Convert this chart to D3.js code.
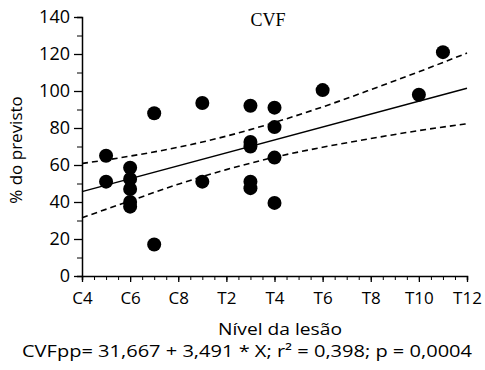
<!DOCTYPE html>
<html>
<head>
<meta charset="utf-8">
<script src="https://cdn.jsdelivr.net/npm/d3@7"></script>
<style>
  body { margin: 0; background: #fff; }
  text { font-family: "Open Sans", "Liberation Sans", Arial, sans-serif; fill: #000; }
</style>
</head>
<body>
<svg id="chart"></svg>
<script>
// spinal level index: C4 = 4 ... T12 = 20
const levelTicks = [4, 6, 8, 10, 12, 14, 16, 18, 20];
const levelLabels = ["C4", "C6", "C8", "T2", "T4", "T6", "T8", "T10", "T12"];

// observed CVF (% predicted) per patient
const pointLevel = [5, 5, 6, 6, 6, 6, 6, 7, 7, 9, 9, 11, 11, 11, 11, 11, 12, 12, 12, 12, 14, 18, 19];
const pointValue = [65, 51, 58.5, 52.5, 47, 40, 37.5, 88, 17, 93.5, 51, 92, 72.5, 70, 51, 47.5, 91, 80.5, 64, 39.5, 100.5, 98, 121];

// fitted line and confidence band
const fitLevel = [4, 20];
const fitValue = [45.6, 101.5];
const bandLevel = [4, 6, 8, 10, 12, 14, 16, 18, 20];
const bandUpper = [60.8, 64.8, 69.6, 75.6, 83.0, 91.4, 100.7, 110.4, 120.5];
const bandLower = [31.5, 40.6, 49.6, 57.5, 64.2, 69.6, 74.3, 78.6, 82.3];

const yTicks = [0, 20, 40, 60, 80, 100, 120, 140];

const width = 485, height = 370;
const marginLeft = 82, marginRight = 18, marginTop = 17, marginBottom = 94;

const svg = d3.select("#chart").attr("width", width).attr("height", height);

const x = d3.scaleLinear().domain([4, 20]).range([marginLeft, width - marginRight]);
const y = d3.scaleLinear().domain([0, 140]).range([height - marginBottom, marginTop]);

// x-axis: minor ticks every half level, labels every two
svg.append("g")
  .attr("transform", `translate(0,${y(0)})`)
  .call(d3.axisBottom(x).tickValues(d3.range(4, 20.01, 0.5)).tickSize(4).tickFormat(""))
  .call(g => g.select(".domain").attr("stroke-width", 1.5));
svg.append("g")
  .attr("transform", `translate(0,${y(0)})`)
  .call(d3.axisBottom(x).tickValues(levelTicks).tickSize(6).tickPadding(10)
    .tickFormat((d, i) => levelLabels[i]))
  .call(g => g.select(".domain").remove())
  .call(g => g.selectAll("line").attr("stroke-width", 1.3))
  .call(g => g.selectAll("text").attr("font-size", 17));

// y-axis: minor every 10, labels every 20
svg.append("g")
  .attr("transform", `translate(${x(4)},0)`)
  .call(d3.axisLeft(y).tickValues(d3.range(10, 140, 20)).tickSize(5).tickFormat(""))
  .call(g => g.select(".domain").attr("stroke-width", 1.5));
svg.append("g")
  .attr("transform", `translate(${x(4)},0)`)
  .call(d3.axisLeft(y).tickValues(yTicks).tickSize(8).tickPadding(4))
  .call(g => g.select(".domain").remove())
  .call(g => g.selectAll("line").attr("stroke-width", 1.3))
  .call(g => g.selectAll("text").attr("font-size", 18));

// confidence band (dashed)
const band = d3.line().x((d, i) => x(bandLevel[i])).y(d => y(d)).curve(d3.curveMonotoneX);
for (const series of [bandUpper, bandLower]) {
  svg.append("path")
    .attr("d", band(series))
    .attr("fill", "none")
    .attr("stroke", "#000")
    .attr("stroke-width", 1.6)
    .attr("stroke-dasharray", "6,4");
}

// regression line
svg.append("path")
  .attr("d", d3.line().x((d, i) => x(fitLevel[i])).y(d => y(d))(fitValue))
  .attr("fill", "none")
  .attr("stroke", "#000")
  .attr("stroke-width", 1.5);

// points
svg.append("g")
  .selectAll("circle")
  .data(pointValue)
  .join("circle")
  .attr("cx", (d, i) => x(pointLevel[i]))
  .attr("cy", d => y(d))
  .attr("r", 7)
  .attr("fill", "#000");

// title (serif in the original)
svg.append("text")
  .attr("x", 268).attr("y", 26)
  .attr("text-anchor", "middle")
  .style("font-family", "'Liberation Serif', 'Times New Roman', serif")
  .attr("font-size", 18)
  .text("CVF");

// y label
svg.append("text")
  .attr("transform", `translate(22,150) rotate(-90)`)
  .attr("text-anchor", "middle")
  .attr("font-size", 17)
  .text("% do previsto");

// x label
svg.append("text")
  .attr("x", 280).attr("y", 335)
  .attr("text-anchor", "middle")
  .attr("font-size", 17)
  .attr("textLength", 124)
  .attr("lengthAdjust", "spacingAndGlyphs")
  .text("Nível da lesão");

// regression equation
svg.append("text")
  .attr("x", 247).attr("y", 357)
  .attr("text-anchor", "middle")
  .attr("font-size", 17)
  .attr("textLength", 450)
  .attr("lengthAdjust", "spacingAndGlyphs")
  .text("CVFpp= 31,667 + 3,491 * X; r² = 0,398; p = 0,0004");
</script>
</body>
</html>
